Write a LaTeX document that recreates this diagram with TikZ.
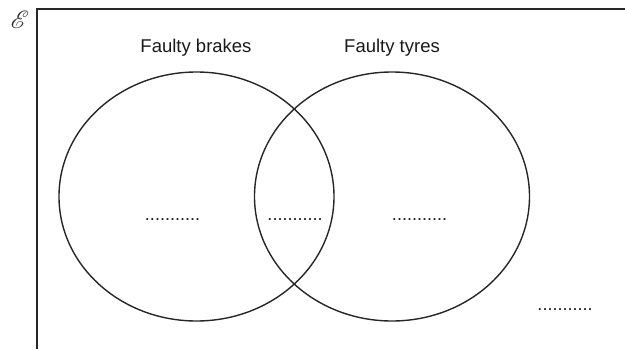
\documentclass[tikz,border=0pt]{standalone}
\usepackage{fontspec}
\setmainfont{Liberation Sans}
\usepackage{mathrsfs}
\usetikzlibrary{shapes.geometric}
\tikzset{
  setline/.style={line width=1.4pt, color=black!85},
  venn/.style={ellipse, draw, line width=1.4pt, color=black!85, minimum width=275pt, minimum height=249pt, inner sep=0pt},
  lbl/.style={font=\fontsize{18.5}{22}\selectfont, text=black!90, anchor=base, inner sep=0pt},
  blank/.style={font=\fontsize{18}{22}\selectfont, text=black!90, anchor=base, inner sep=0pt}
}
\begin{document}
\begin{tikzpicture}[x=1pt,y=-1pt]
\useasboundingbox (0,0) rectangle (625,349);
\coordinate (tr) at (625,9);
\coordinate (tl) at (37,9);
\coordinate (bl) at (37,349);
\draw[setline] (tr) -- (tl) -- (bl);
\node[inner sep=0pt, font=\fontsize{25}{25}\selectfont, text=black!80] (E) at (20,20) {$\mathscr{E}$};
\node[venn] (A) at (196.5,196.5) {};
\node[venn] (B) at (392,196.5) {};
\node[lbl] (la) at (196,52) {Faulty brakes};
\node[lbl] (lb) at (392,52) {Faulty tyres};
\node[blank] (d1) at (172.5,220) {...........};
\node[blank] (d2) at (295,220) {...........};
\node[blank] (d3) at (419.5,220) {...........};
\node[blank] (d4) at (565,310) {...........};
\end{tikzpicture}
\end{document}
